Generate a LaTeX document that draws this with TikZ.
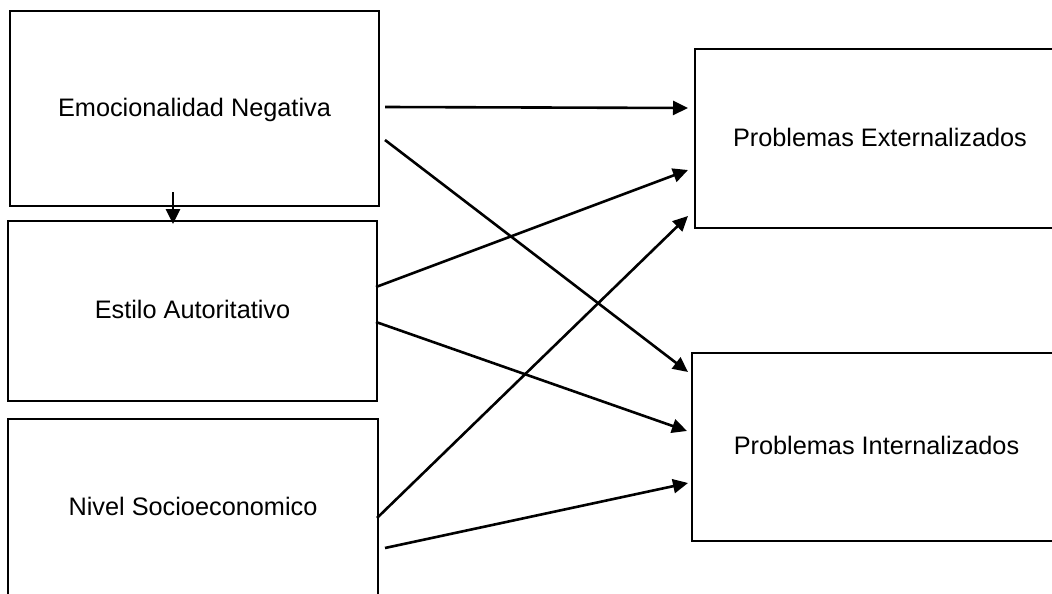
\documentclass[tikz,border=0pt]{standalone}
\usepackage{fontspec}
\setmainfont{Liberation Sans}
\usetikzlibrary{arrows.meta,calc}
\begin{document}
\begin{tikzpicture}[x=1pt,y=-1pt,
  box/.style={draw=black,line width=2pt,rectangle,inner sep=0pt,
    text height=18pt,text depth=3pt,
    font=\fontsize{25.3}{30}\selectfont},
  link/.style={line width=2.6pt,-{Triangle[length=15pt,width=14pt]}}]
  \clip (0,0) rectangle (1052,594);
  \fill[white] (0,0) rectangle (1052,594);
  % predictor boxes
  \node[box,minimum width=369pt,minimum height=195pt] (en) at (194.5,108.5) {Emocionalidad Negativa};
  \node[box,minimum width=369pt,minimum height=180pt] (ea) at (192.5,311) {Estilo Autoritativo};
  \node[box,minimum width=370pt,minimum height=178pt] (ns) at (193,508) {Nivel Socioeconomico};
  % outcome boxes
  \node[box,minimum width=370pt,minimum height=179pt] (ext) at (880,138.5) {Problemas Externalizados};
  \node[box,minimum width=369pt,minimum height=188pt] (int) at (876.5,447) {Problemas Internalizados};
  % paths
  \draw[link] ($(en.east)+(5,-1.5)$) -- ($(ext.west)+(-6,-30.5)$);
  \draw[link] ($(en.east)+(5,31.5)$) -- ($(int.west)+(-3,-75)$);
  \draw[link] ($(ea.east)+(-2,-24)$) -- ($(ext.west)+(-6,31.5)$);
  \draw[link] ($(ea.east)+(-2,11)$) -- ($(int.west)+(-4,-16)$);
  \draw[link] ($(ns.east)+(-2,10)$) -- ($(ext.west)+(-6,77.5)$);
  \draw[link] ($(ns.east)+(6,40)$) -- ($(int.west)+(-3,36)$);
  \draw[link] ($(en.south)+(-21.5,-15)$) -- ($(ea.north)+(-19.5,4)$);
\end{tikzpicture}
\end{document}
